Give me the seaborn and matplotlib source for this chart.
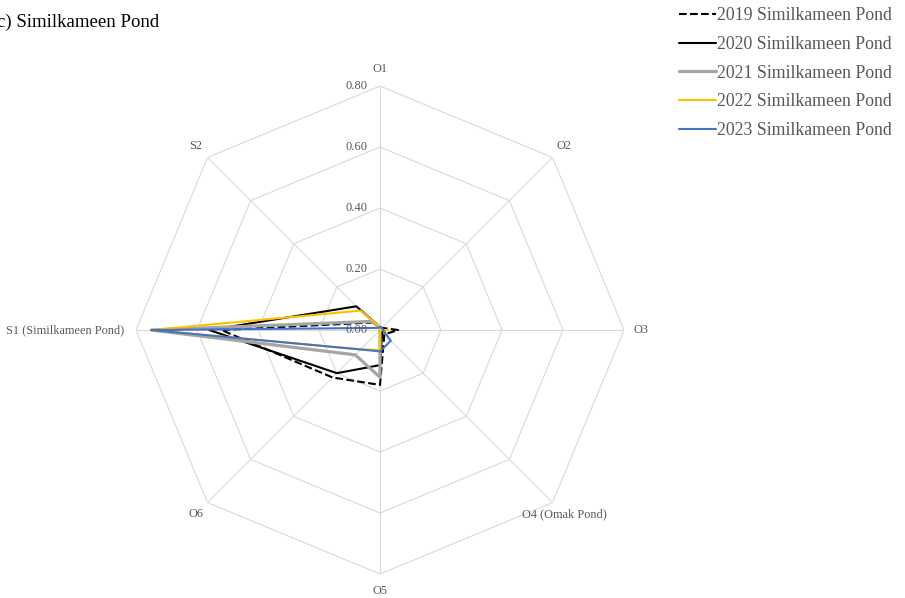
import numpy as np
import pandas as pd
import matplotlib
matplotlib.use("Agg")
import matplotlib.pyplot as plt
import matplotlib.transforms as mtransforms
import seaborn as sns

# ==========================================
# Data
# ==========================================

categories = ["O1", "O2", "O3", "O4 (Omak Pond)", "O5", "O6",
              "S1 (Similkameen Pond)", "S2"]

v2019 = [0.01, 0.01, 0.06, 0.02, 0.18, 0.22, 0.52, 0.035]
v2020 = [0.01, 0.00, 0.00, 0.01, 0.115, 0.20, 0.56, 0.11]
v2021 = [0.01, 0.00, 0.00, 0.00, 0.155, 0.115, 0.75, 0.04]
v2022 = [0.01, 0.00, 0.025, 0.00, 0.065, 0.09, 0.75, 0.09]
v2023 = [0.01, 0.01, 0.01, 0.05, 0.07, 0.09, 0.75, 0.01]

series_names = ["2019 Similkameen Pond", "2020 Similkameen Pond",
                "2021 Similkameen Pond", "2022 Similkameen Pond",
                "2023 Similkameen Pond"]
series_values = [v2019, v2020, v2021, v2022, v2023]

radial_ticks = [0.0, 0.2, 0.4, 0.6, 0.8]

# ==========================================
# Styling
# ==========================================

sns.set_theme(style="white")
plt.rcParams["font.family"] = ["Liberation Serif", "DejaVu Serif"]

colors = ["#000000", "#000000", "#A5A5A5", "#FFC000", "#4472C4"]
styles = ["--", "-", "-", "-", "-"]
widths = [1.5, 1.5, 2.3, 1.5, 1.5]
text_grey = "#595959"
grid_grey = "#D9D9D9"

# ==========================================
# Long-form table
# ==========================================

n = len(categories)
angles = np.linspace(0, 2 * np.pi, n, endpoint=False)

rows = []
for name, vals in zip(series_names, series_values):
    for a, v in zip(list(angles) + [2 * np.pi], list(vals) + [vals[0]]):
        rows.append({"angle": a, "value": v, "series": name})
df = pd.DataFrame(rows)

# ==========================================
# Radar chart
# ==========================================

fig = plt.figure(figsize=(9.05, 5.98), dpi=100)
ax = fig.add_axes([0.1503, 0.0401, 0.5392, 0.816], projection="polar")
ax.set_theta_zero_location("N")
ax.set_theta_direction(-1)
ax.set_ylim(0, 0.8)
ax.grid(False)
ax.spines["polar"].set_visible(False)
ax.set_xticks([])
ax.set_yticks([])
ax.set_facecolor("white")

# octagon grid and spokes
closed = np.append(angles, 2 * np.pi)
for r in radial_ticks[1:]:
    ax.plot(closed, [r] * len(closed), color=grid_grey, lw=0.8, zorder=0)
for a in angles:
    ax.plot([a, a], [0, 0.8], color=grid_grey, lw=0.8, zorder=0)

handles = []
for name, c, ls, lw in zip(series_names, colors, styles, widths):
    sub = df[df["series"] == name]
    sns.lineplot(data=sub, x="angle", y="value", ax=ax, color=c,
                 linestyle=ls, linewidth=lw, estimator=None, sort=False,
                 legend=False, zorder=3)
    handles.append(plt.Line2D([], [], color=c, linestyle=ls, linewidth=lw))

ax.set_xlabel("")
ax.set_ylabel("")

# category labels
for a, lab in zip(angles, categories):
    ha, rad = "center", 0.855
    if np.isclose(a, 3 * np.pi / 2):
        ha, rad = "right", 0.838
    ax.text(a, rad, lab, ha=ha, va="center", fontsize=8.8, color=text_grey,
            clip_on=False)

# radial tick labels
off = mtransforms.offset_copy(ax.transData, fig=fig, x=-9, y=0, units="points")
for r in radial_ticks:
    ax.text(0, r, f"{r:.2f}", ha="right", va="center", fontsize=9,
            color=text_grey, transform=off)

# title (partly cut at the left edge as in the reference)
fig.text(-0.003, 0.962, "c) Similkameen Pond", fontsize=13.5, color="black",
         ha="left", va="center")

fig.legend(handles, series_names, loc="upper left",
           bbox_to_anchor=(0.742, 1.0), frameon=False, fontsize=12.8,
           labelcolor=text_grey, handlelength=2.1, handletextpad=0.05,
           labelspacing=0.66, borderaxespad=0)

fig.savefig("out.png", dpi=100)
